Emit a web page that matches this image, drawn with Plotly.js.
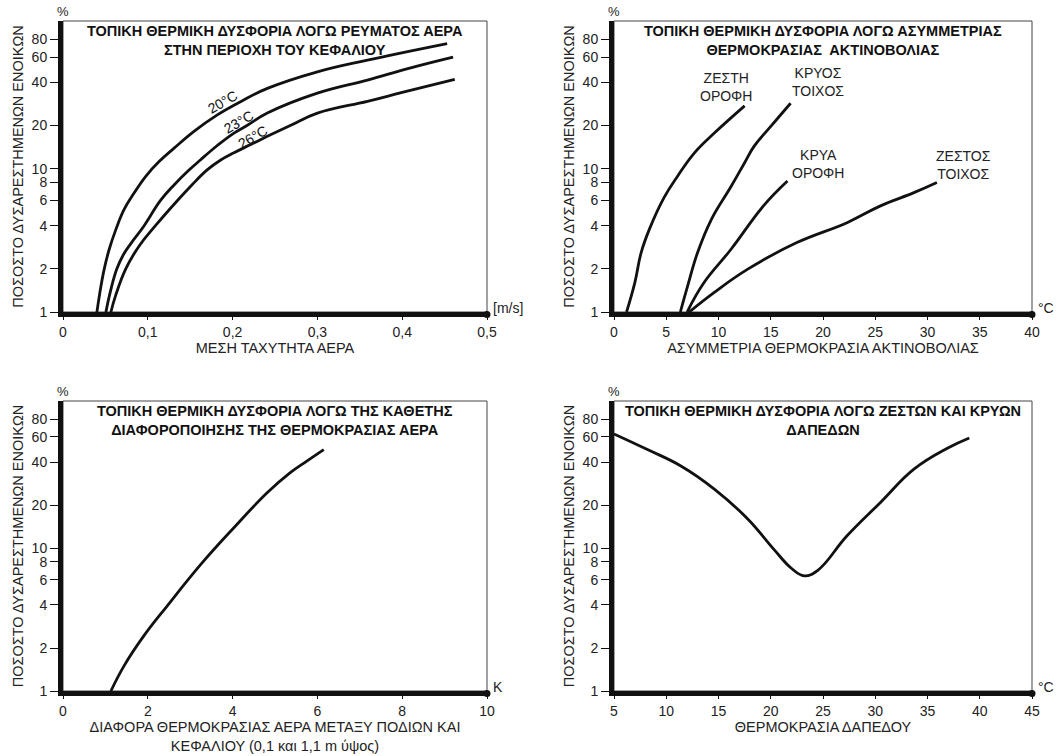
<!DOCTYPE html>
<html><head><meta charset="utf-8">
<script src="https://cdn.plot.ly/plotly-3.0.1.min.js"></script>
<style>html,body{margin:0;padding:0;background:#fff}#chart{width:1064px;height:756px}</style>
</head><body><div id="chart"></div>
<script>
// ---- shared y ticks (log scale, % dissatisfied)
const yTickVals = [1, 2, 4, 6, 8, 10, 20, 40, 60, 80];
const yTickText = ["1", "2", "4", "6", "8", "10", "20", "40", "60", "80"];

// ---- Panel 1: draught at head level (mean air velocity, m/s)
const p1TickVals = [0, 0.1, 0.2, 0.3, 0.4, 0.5];
const p1TickText = ["0", "0,1", "0,2", "0,3", "0,4", "0,5"];
const p1X20 = [0.040, 0.0435, 0.0486, 0.0545, 0.0624, 0.0721, 0.084, 0.0976, 0.1133, 0.131, 0.1545, 0.182, 0.2094, 0.241, 0.300, 0.359, 0.453];
const p1Y20 = [1.0, 1.37, 1.99, 2.74, 3.77, 5.19, 6.78, 8.85, 11.2, 13.9, 18.2, 23.7, 29.3, 36.3, 47.4, 57.2, 74.6];
const p1X23 = [0.0506, 0.056, 0.0635, 0.071, 0.080, 0.0957, 0.115, 0.131, 0.148, 0.162, 0.182, 0.2016, 0.217, 0.241, 0.300, 0.359, 0.410, 0.460];
const p1Y23 = [1.0, 1.4, 2.0, 2.5, 3.0, 4.0, 6.0, 7.7, 9.7, 11.5, 14.5, 17.7, 20, 24.4, 33.6, 41.5, 50.5, 60];
const p1X26 = [0.0565, 0.062, 0.074, 0.090, 0.109, 0.135, 0.152, 0.170, 0.186, 0.2016, 0.220, 0.241, 0.268, 0.300, 0.359, 0.400, 0.462];
const p1Y26 = [1.0, 1.3, 2.0, 2.9, 4.0, 6.0, 7.7, 9.8, 11.5, 12.9, 14.6, 16.8, 20, 24.4, 29.5, 34, 42];
const p1Labels = ["20°C", "23°C", "26°C"];

// ---- Panel 2: radiant temperature asymmetry (°C)
const p2XWarmCeil = [1.2, 2.0, 2.6, 3.4, 4.8, 6.1, 7.7, 9.6, 12.5];
const p2YWarmCeil = [1.0, 1.61, 2.6, 3.8, 6.3, 8.9, 12.9, 17.7, 27.4];
const p2XCoolWall = [6.35, 7.05, 8.0, 9.3, 11.2, 12.5, 13.4, 15.0, 16.9];
const p2YCoolWall = [1.0, 1.52, 2.6, 4.4, 7.5, 11.0, 14.3, 19.7, 28.6];
const p2XCoolCeil = [7.0, 8.6, 11.2, 14.3, 16.6];
const p2YCoolCeil = [1.0, 1.6, 2.74, 5.5, 8.2];
const p2XWarmWall = [7.2, 9.6, 12.8, 17.5, 22.3, 25.5, 28.7, 30.9];
const p2YWarmWall = [1.0, 1.37, 1.99, 3.05, 4.2, 5.5, 6.8, 8.0];
const p2Labels = ["ΖΕΣΤΗ<br>ΟΡΟΦΗ", "ΚΡΥΟΣ<br>ΤΟΙΧΟΣ", "ΚΡΥΑ<br>ΟΡΟΦΗ", "ΖΕΣΤΟΣ<br>ΤΟΙΧΟΣ"];

// ---- Panel 3: vertical air temperature difference (K)
const p3X = [1.13, 1.44, 1.91, 2.46, 3.25, 4.03, 4.82, 5.36, 5.75, 6.15];
const p3Y = [1.0, 1.5, 2.44, 3.95, 7.7, 13.9, 24.5, 33.8, 40.7, 49];

// ---- Panel 4: floor temperature (°C)
const p4X = [5.0, 8.2, 11.4, 14.6, 17.8, 20.3, 22.0, 23.2, 24.5, 27.3, 30.5, 33.7, 36.9, 39.0];
const p4Y = [63, 49, 37.6, 25.9, 16, 9.8, 7.2, 6.4, 7.0, 12.2, 20.9, 35.7, 50, 59];

const FONT = "Liberation Sans, Arial, sans-serif";
const ink = "#111";
const lineStyle = {color: ink, width: 2.8, shape: "spline", smoothing: 1.2};

function tr(x, y, xa, ya) {
  return {x: x, y: y, xaxis: xa, yaxis: ya, type: "scatter", mode: "lines",
          line: lineStyle, hoverinfo: "skip", showlegend: false};
}
const data = [
  tr(p1X20, p1Y20, "x", "y"), tr(p1X23, p1Y23, "x", "y"), tr(p1X26, p1Y26, "x", "y"),
  tr(p2XWarmCeil, p2YWarmCeil, "x2", "y2"), tr(p2XCoolWall, p2YCoolWall, "x2", "y2"),
  tr(p2XCoolCeil, p2YCoolCeil, "x2", "y2"), tr(p2XWarmWall, p2YWarmWall, "x2", "y2"),
  tr(p3X, p3Y, "x3", "y3"),
  tr(p4X, p4Y, "x4", "y4")
];

const W = 1064, H = 756;
const colL = [63 / W, 487 / W], colR = [614 / W, 1032 / W];
const rowT = [1 - 312 / H, 1 - 21 / H], rowB = [1 - 691 / H, 1 - 401 / H];

function xax(domain, range, tv, tt, title, anchor) {
  return {domain: domain, range: range, anchor: anchor, tickvals: tv, ticktext: tt,
    showline: true, linewidth: 5, linecolor: ink, ticks: "outside", ticklen: 3, tickwidth: 1,
    tickcolor: ink, showgrid: false, zeroline: false, fixedrange: true,
    tickfont: {family: FONT, size: 14, color: "#222"},
    title: {text: title, font: {family: FONT, size: 14.5, color: "#222"}, standoff: 6}};
}
function yax(domain, anchor) {
  return {domain: domain, type: "log", range: [0, 2.03], anchor: anchor,
    tickvals: yTickVals, ticktext: yTickText,
    showline: true, linewidth: 5, linecolor: ink, ticks: "outside", ticklen: 8, tickwidth: 1,
    tickcolor: ink, showgrid: false, zeroline: false, fixedrange: true,
    tickfont: {family: FONT, size: 14, color: "#222"},
    title: {text: "ΠΟΣΟΣΤΟ ΔΥΣΑΡΕΣΤΗΜΕΝΩΝ ΕΝΟΙΚΩΝ", font: {family: FONT, size: 14.5, color: "#222"}, standoff: 6}};
}

const layout = {
  width: W, height: H, margin: {l: 0, r: 0, t: 0, b: 0},
  paper_bgcolor: "#fff", plot_bgcolor: "#fff", showlegend: false,
  xaxis: xax(colL, [0, 0.5], p1TickVals, p1TickText, "ΜΕΣΗ ΤΑΧΥΤΗΤΑ ΑΕΡΑ", "y"),
  yaxis: yax(rowT, "x"),
  xaxis2: xax(colR, [0, 40], [0, 5, 10, 15, 20, 25, 30, 35, 40], ["0", "5", "10", "15", "20", "25", "30", "35", "40"], "ΑΣΥΜΜΕΤΡΙΑ ΘΕΡΜΟΚΡΑΣΙΑ ΑΚΤΙΝΟΒΟΛΙΑΣ", "y2"),
  yaxis2: yax(rowT, "x2"),
  xaxis3: xax(colL, [0, 10], [0, 2, 4, 6, 8, 10], ["0", "2", "4", "6", "8", "10"], "ΔΙΑΦΟΡΑ ΘΕΡΜΟΚΡΑΣΙΑΣ ΑΕΡΑ ΜΕΤΑΞΥ ΠΟΔΙΩΝ ΚΑΙ<br>ΚΕΦΑΛΙΟΥ (0,1 και 1,1 m ύψος)", "y3"),
  yaxis3: yax(rowB, "x3"),
  xaxis4: xax(colR, [5, 45], [5, 10, 15, 20, 25, 30, 35, 40, 45], ["5", "10", "15", "20", "25", "30", "35", "40", "45"], "ΘΕΡΜΟΚΡΑΣΙΑ ΔΑΠΕΔΟΥ", "y4"),
  yaxis4: yax(rowB, "x4"),
  shapes: [], annotations: []
};

const panels = [
  {xa: "x", ya: "y", title: "ΤΟΠΙΚΗ ΘΕΡΜΙΚΗ ΔΥΣΦΟΡΙΑ ΛΟΓΩ ΡΕΥΜΑΤΟΣ ΑΕΡΑ<br>ΣΤΗΝ ΠΕΡΙΟΧΗ ΤΟΥ ΚΕΦΑΛΙΟΥ", unit: "[m/s]"},
  {xa: "x2", ya: "y2", title: "ΤΟΠΙΚΗ ΘΕΡΜΙΚΗ ΔΥΣΦΟΡΙΑ ΛΟΓΩ ΑΣΥΜΜΕΤΡΙΑΣ<br>ΘΕΡΜΟΚΡΑΣΙΑΣ  ΑΚΤΙΝΟΒΟΛΙΑΣ", unit: "°C"},
  {xa: "x3", ya: "y3", title: "ΤΟΠΙΚΗ ΘΕΡΜΙΚΗ ΔΥΣΦΟΡΙΑ ΛΟΓΩ ΤΗΣ ΚΑΘΕΤΗΣ<br>ΔΙΑΦΟΡΟΠΟΙΗΣΗΣ ΤΗΣ ΘΕΡΜΟΚΡΑΣΙΑΣ ΑΕΡΑ", unit: "K"},
  {xa: "x4", ya: "y4", title: "ΤΟΠΙΚΗ ΘΕΡΜΙΚΗ ΔΥΣΦΟΡΙΑ ΛΟΓΩ ΖΕΣΤΩΝ ΚΑΙ ΚΡΥΩΝ<br>ΔΑΠΕΔΩΝ", unit: "°C"}
];
panels.forEach(p => {
  const xd = p.xa + " domain", yd = p.ya + " domain";
  layout.shapes.push({type: "rect", xref: xd, yref: yd, x0: 0, x1: 1, y0: 0, y1: 1,
    line: {color: "#444", width: 1}, layer: "below"});
  layout.shapes.push({type: "circle", xref: xd, yref: yd, xsizemode: "pixel", ysizemode: "pixel",
    xanchor: 1, yanchor: 0, x0: -3.5, x1: 3.5, y0: -6, y1: 1, fillcolor: ink, line: {width: 0}});
  layout.annotations.push({xref: xd, yref: yd, x: 0.5, y: 1, yanchor: "top", yshift: 0,
    text: "<b>" + p.title + "</b>", showarrow: false, align: "center",
    font: {family: FONT, size: 14.5, color: ink}});
  layout.annotations.push({xref: xd, yref: yd, x: 0, y: 1, yanchor: "bottom", xanchor: "center",
    text: "%", showarrow: false, font: {family: FONT, size: 13, color: "#222"}});
  layout.annotations.push({xref: xd, yref: yd, x: 1, y: 0, xanchor: "left", yanchor: "middle",
    xshift: 4, yshift: 4, text: p.unit, showarrow: false, font: {family: FONT, size: 14, color: "#222"}});
});

// curve labels (log axes take log10 for annotation y)
const p1LabelPos = [[0.188, 1.465], [0.207, 1.326], [0.2235, 1.222]];
p1Labels.forEach((t, i) => layout.annotations.push({xref: "x", yref: "y", x: p1LabelPos[i][0], y: p1LabelPos[i][1],
  text: t, textangle: -30, showarrow: false, font: {family: FONT, size: 14, color: ink}}));
const p2LabelPos = [[10.7, 1.569], [19.5, 1.604], [19.5, 1.035], [33.4, 1.028]];
p2Labels.forEach((t, i) => layout.annotations.push({xref: "x2", yref: "y2", x: p2LabelPos[i][0], y: p2LabelPos[i][1],
  text: t, showarrow: false, align: "center", font: {family: FONT, size: 14, color: "#222"}}));

Plotly.newPlot("chart", data, layout, {staticPlot: true, displayModeBar: false});
</script></body></html>
